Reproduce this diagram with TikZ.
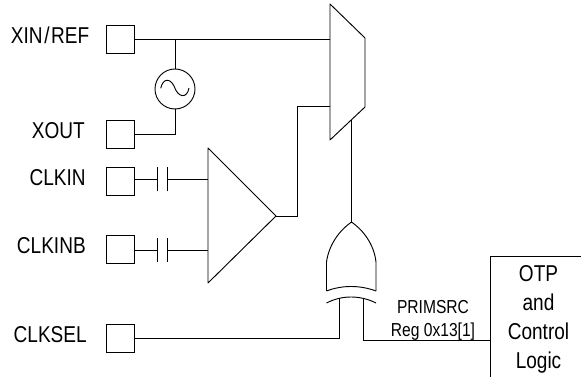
\documentclass[tikz,border=0pt]{standalone}
\usepackage{fontspec}
\setmainfont{Liberation Sans}[FakeStretch=.83]
\usepackage{tkz-euclide}
\usetikzlibrary{calc}
\tikzset{
  wire/.style={line width=.7pt,color=black},
  pad/.style={draw,line width=.7pt,minimum size=21pt,inner sep=0pt},
  xtal/.style={draw,circle,line width=.7pt,minimum size=30pt,inner sep=0pt},
  pinname/.style={font=\fontsize{17.2}{19}\selectfont,anchor=east,inner sep=0pt},
  ctrlname/.style={font=\fontsize{17.2}{21.7}\selectfont,align=center,inner sep=0pt},
  regname/.style={font=\fontsize{14.1}{17}\selectfont,align=center,inner sep=0pt},
}

\begin{document}
\begin{tikzpicture}[x=.75pt,y=.75pt]
\useasboundingbox (0,0) rectangle (581,377);

\tkzDefPoints{330/373/MA,365/339/MB,365/270/MC,330/237/MD,208/229/AA,208/94/AB,276/161/AC}
\tkzDefPoints{351.5/155/GT,326.5/86/GL,376/86/GR,326.5/74/HL,376/74/HR}
\tkzDefPoints{351.5/257/MO,297.5/271/MI,490/121/OA,581/121/OB,490/0/OC}
\tkzDefPoints{339.3/79/GA,363.3/79/GB}

% pads
\node[pad] (xin) at (120,338) {};
\node[pad] (xout) at (120,243) {};
\node[pad] (clkin) at (120,195.5) {};
\node[pad] (clkinb) at (120,127.5) {};
\node[pad] (clksel) at (120,38.5) {};

\node[pinname] (xinname) at (89.5,341.5) {XIN\kern1.2pt/\kern1.2pt REF};
\node[pinname] (xoutname) at (85,246) {XOUT};
\node[pinname] (clkinname) at (86,199) {CLKIN};
\node[pinname] (clkinbname) at (86,131.5) {CLKINB};
\node[pinname] (clkselname) at (87,42) {CLKSEL};

% crystal
\node[xtal] (osc) at (175,288) {};
\draw[wire] (osc.south) |- (xout.east);
\draw[wire] (osc.north) -- (osc.north |- xin.east);
\draw[wire] (160.7,288.7) .. controls (163,299) and (170,299) .. (174,291)
  .. controls (178,279) and (187,278) .. (189,289);

% mux and buffer
\tkzDrawPolygon[wire](MA,MB,MC,MD)
\tkzDrawPolygon[wire](AA,AB,AC)
\draw[wire] (xin.east) -- (xin.east -| MA);
\draw[wire] (AC) -| (MI) -- (MI -| MD);
\draw[wire] (MO) -- (GT);

% ac coupling
\foreach \pin/\yc in {clkin/197.5,clkinb/127}{
  \draw[wire] (\pin.east |- 0,\yc) -- (157,\yc);
  \draw[wire] (157,\yc-12) -- (157,\yc+12);
  \draw[wire] (167,\yc-12) -- (167,\yc+12);
  \draw[wire] (167,\yc) -- (208,\yc);
}

% xor gate
\draw[wire] (GL) -- (326.5,115) .. controls (329,133) and (340,147) .. (GT)
  .. controls (363,147) and (374,133) .. (376,115) -- (GR);
\draw[wire] (GL) .. controls (342,92) and (360,92) .. (GR);
\draw[wire] (HL) .. controls (342,82) and (360,82) .. (HR);
\draw[wire] (clksel.east) -| (GA);
\draw[wire] (OA |- 0,37) -| (GB);

% control block
\draw[wire] (OB) -- (OA) -- (OC);
\node[ctrlname] (ctrl) at (538.5,58) {OTP\\and\\Control\\Logic};
\node[regname] (reg) at (433,56.8) {PRIMSRC\\Reg 0x13[1]};
\end{tikzpicture}
\end{document}
